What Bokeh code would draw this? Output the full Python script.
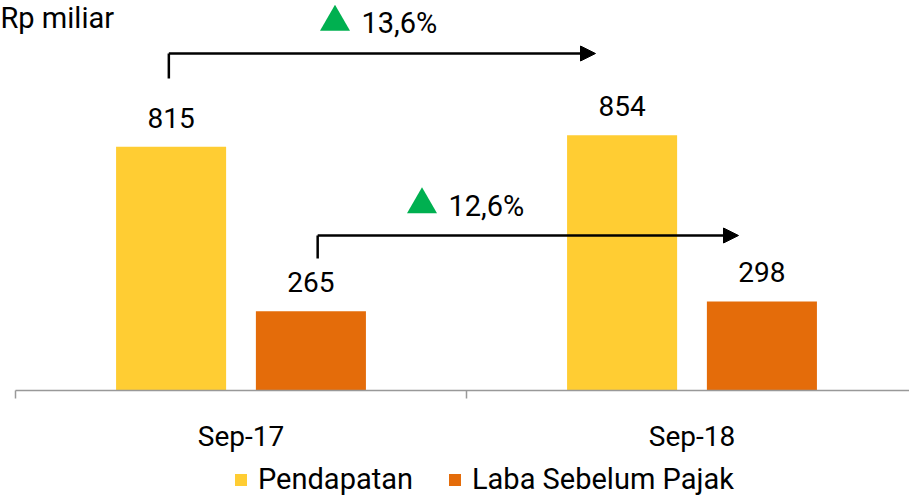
from bokeh.plotting import figure
from bokeh.models import (Range1d, FixedTicker, LinearAxis, Legend, LegendItem,
                          ColumnDataSource, Arrow, NormalHead)
from bokeh.core.properties import value
from bokeh.embed import file_html
from bokeh.resources import INLINE

# ---------------- data ----------------
periods = ["Sep-17", "Sep-18"]
pendapatan = [815, 854]
laba = [265, 298]
growth_labels = ["13,6%", "12,6%"]
series_names = ["Pendapatan", "Laba Sebelum Pajak"]
unit_label = "Rp miliar"

# ---------------- style / layout ----------------
FONT = value("Roboto")
YELLOW = "#FFCD33"
ORANGE = "#E46C0A"
GREEN = "#00B050"
AXIS_GREY = "#999999"

W, H = 909, 497
BASE = 390                    # pixel row of the value axis (y = 0)
PX_PER_CAT = 451.0            # pixels per category
PX_PER_UNIT = 0.299           # pixels per Rp miliar
X0 = -15 / PX_PER_CAT
X1 = X0 + W / PX_PER_CAT
Y_TOP = BASE / PX_PER_UNIT
Y_BOT = -(H - BASE) / PX_PER_UNIT
TXT_FIX = 11                  # px, baseline correction for text glyphs


def px_y(page_y):
    """page pixel row -> data y"""
    return (BASE - page_y) / PX_PER_UNIT


def px_x(page_x):
    return (page_x - 15) / PX_PER_CAT


BAR_W = 0.244
OFF = 0.155
LABEL_GAP = (18 + TXT_FIX) / PX_PER_UNIT

cat_center = [i + 0.5 for i in range(len(periods))]
cat_edges = [float(i) for i in range(len(periods) + 1)]
x_pend = [c - OFF for c in cat_center]
x_laba = [c + OFF for c in cat_center]

# growth-annotation layout
ann_x0 = [x_pend[0] - 0.005, x_laba[0] + 0.015]
ann_x1 = [px_x(595), px_x(738)]
ann_y = [px_y(53), px_y(235)]
ann_ybot = [px_y(78), px_y(258)]
tri_x = [px_x(334.5), px_x(421.5)]
tri_y = [px_y(21.5), px_y(204)]
gtxt_x = [px_x(361), px_x(448)]
gtxt_y = [px_y(33 - TXT_FIX), px_y(216 - TXT_FIX)]

p = figure(frame_width=W, frame_height=H, output_backend="svg",
           toolbar_location=None, x_axis_type=None, y_axis_type=None,
           x_range=Range1d(X0, X1), y_range=Range1d(Y_BOT, Y_TOP),
           min_border_left=0, min_border_right=0, min_border_top=0,
           min_border_bottom=0)
p.outline_line_color = None
p.grid.visible = False
p.background_fill_color = "white"
p.border_fill_color = "white"

src_p = ColumnDataSource(dict(x=x_pend, top=pendapatan,
                              ly=[v + LABEL_GAP for v in pendapatan],
                              t=[str(v) for v in pendapatan]))
src_l = ColumnDataSource(dict(x=x_laba, top=laba,
                              ly=[v + LABEL_GAP for v in laba],
                              t=[str(v) for v in laba]))

r_p = p.vbar(x="x", top="top", bottom=0, width=BAR_W, source=src_p,
             fill_color=YELLOW, line_color=None)
r_l = p.vbar(x="x", top="top", bottom=0, width=BAR_W, source=src_l,
             fill_color=ORANGE, line_color=None)

for s in (src_p, src_l):
    p.text(x="x", y="ly", text="t", source=s, text_align="center",
           text_baseline="alphabetic", text_font=FONT, text_font_size="28px",
           text_color="black")

# growth brackets and arrows
p.segment(x0=ann_x0, y0=ann_ybot, x1=ann_x0, y1=ann_y, line_color="black",
          line_width=2.5)
for i in range(len(growth_labels)):
    p.add_layout(Arrow(end=NormalHead(size=15, fill_color="black",
                                      line_color="black", line_width=1),
                       x_start=ann_x0[i], y_start=ann_y[i],
                       x_end=ann_x1[i], y_end=ann_y[i],
                       line_color="black", line_width=2.5))
p.scatter(x=tri_x, y=tri_y, marker="triangle", size=30, fill_color=GREEN,
          line_color=None)
p.text(x=gtxt_x, y=gtxt_y, text=growth_labels, text_align="left",
       text_baseline="alphabetic", text_font=FONT, text_font_size="29px",
       text_color="black")

# unit label
p.text(x=[px_x(0)], y=[px_y(28 - TXT_FIX)], text=[unit_label],
       text_align="left", text_baseline="alphabetic", text_font=FONT,
       text_font_size="29px", text_color="black")

# category axis fixed at y = 0: boundary ticks (minor) + centred labels
ax = LinearAxis(ticker=FixedTicker(ticks=cat_center, minor_ticks=cat_edges),
                major_label_overrides={c: lab for c, lab in zip(cat_center, periods)},
                bounds=(cat_edges[0], cat_edges[-1]), fixed_location=0)
ax.axis_line_color = AXIS_GREY
ax.axis_line_width = 1.5
ax.major_tick_line_color = None
ax.major_tick_out = 8
ax.major_tick_in = 0
ax.minor_tick_line_color = AXIS_GREY
ax.minor_tick_line_width = 1.5
ax.minor_tick_out = 8
ax.minor_tick_in = 0
ax.major_label_standoff = 21
ax.major_label_text_font = "Roboto"
ax.major_label_text_font_size = "28px"
ax.major_label_text_color = "black"
p.add_layout(ax, "below")

legend = Legend(items=[LegendItem(label=series_names[0], renderers=[r_p]),
                       LegendItem(label=series_names[1], renderers=[r_l])],
                orientation="horizontal", location=(233, 1),
                glyph_width=15, glyph_height=15, label_standoff=10, spacing=34,
                padding=0, margin=0, border_line_color=None,
                background_fill_alpha=0, label_text_font="Roboto",
                label_text_font_size="29px", label_text_color="black")
p.add_layout(legend)

open("out.html", "w").write(file_html(p, INLINE))
